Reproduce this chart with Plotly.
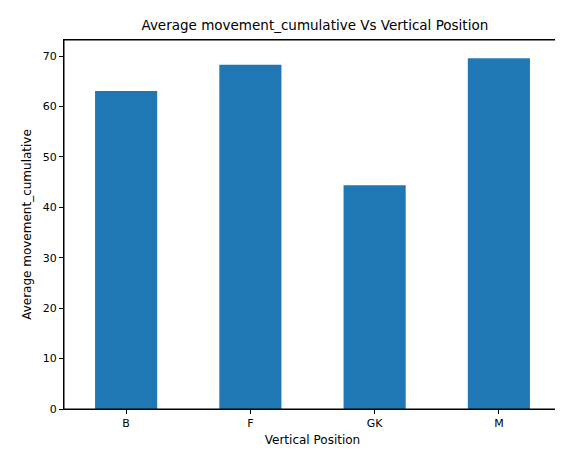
import plotly.graph_objects as go

positions = ["B", "F", "GK", "M"]
avg_movement = [63.1, 68.3, 44.4, 69.6]

fig = go.Figure(go.Bar(x=positions, y=avg_movement, marker_color="#1f77b4",
                       marker_line_width=0, width=0.5))

axis_common = dict(showline=True, linecolor="black", linewidth=1, mirror=True,
                   ticks="outside", ticklen=4, tickcolor="black", showgrid=False,
                   tickfont=dict(size=11, color="black"), zeroline=False, automargin=False)

fig.update_layout(
    width=563, height=455,
    margin=dict(l=56, r=10, t=32, b=54),
    plot_bgcolor="white", paper_bgcolor="white",
    font=dict(family="DejaVu Sans", color="black"),
    title=dict(text="Average movement_cumulative Vs Vertical Position",
               x=0.545, xanchor="center", y=0.962, yanchor="middle", font=dict(size=13.5)),
    xaxis=dict(title=dict(text="Vertical Position", font=dict(size=12), standoff=6),
               range=[-0.5, 3.5], **axis_common),
    yaxis=dict(title=dict(text="Average movement_cumulative", font=dict(size=12), standoff=8),
               range=[0, 73.2], dtick=10, **axis_common),
    shapes=[dict(type="rect", xref="paper", yref="paper", x0=0, y0=0, x1=1, y1=1,
                 line=dict(color="black", width=1), layer="above")],
)

fig.write_html("out.html")
